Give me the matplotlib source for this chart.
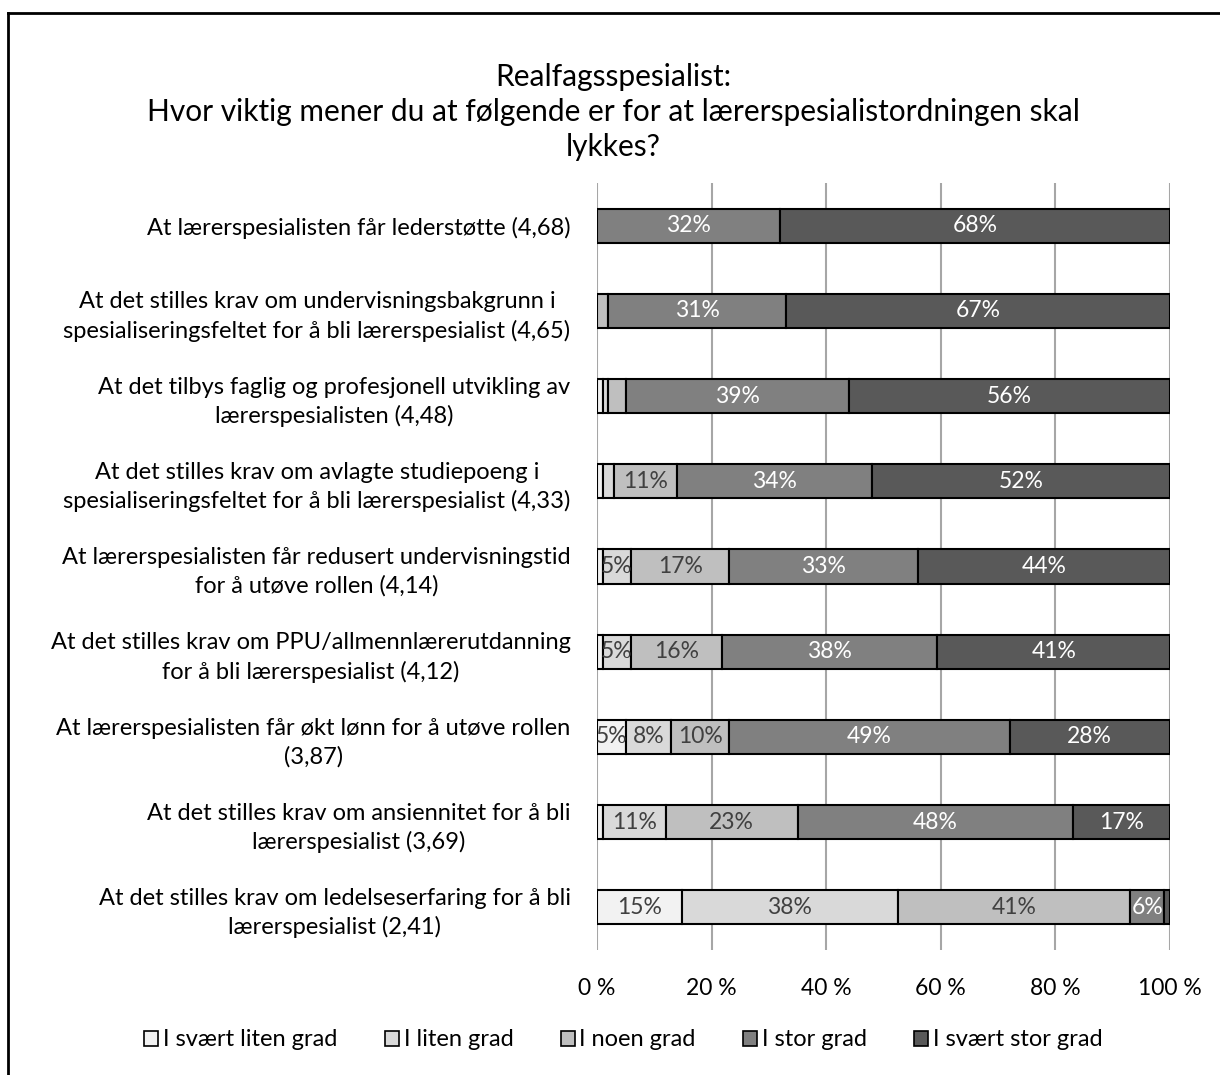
import matplotlib

matplotlib.use("Agg")
import matplotlib.pyplot as plt
from matplotlib.lines import Line2D
from matplotlib.patches import Patch
import numpy as np

plt.rcParams["font.family"] = ["Lato", "DejaVu Sans"]

title = ("Realfagsspesialist:\n"
         "Hvor viktig mener du at følgende er for at lærerspesialistordningen skal\n"
         "lykkes?")

categories = [
    "At lærerspesialisten får lederstøtte (4,68)",
    "At det stilles krav om undervisningsbakgrunn i\nspesialiseringsfeltet for å bli lærerspesialist (4,65)",
    "At det tilbys faglig og profesjonell utvikling av\nlærerspesialisten (4,48)",
    "At det stilles krav om avlagte studiepoeng i\nspesialiseringsfeltet for å bli lærerspesialist (4,33)",
    "At lærerspesialisten får redusert undervisningstid\nfor å utøve rollen (4,14)",
    "At det stilles krav om PPU/allmennlærerutdanning\nfor å bli lærerspesialist (4,12)",
    "At lærerspesialisten får økt lønn for å utøve rollen\n(3,87)",
    "At det stilles krav om ansiennitet for å bli\nlærerspesialist (3,69)",
    "At det stilles krav om ledelseserfaring for å bli\nlærerspesialist (2,41)",
]

series = ["I svært liten grad", "I liten grad", "I noen grad", "I stor grad", "I svært stor grad"]

# percent per category, one list per answer
svaert_liten = [0, 0, 1, 1, 1, 1, 5, 1, 15]
liten = [0, 0, 1, 2, 5, 5, 8, 11, 38]
noen = [0, 2, 3, 11, 17, 16, 10, 23, 41]
stor = [32, 31, 39, 34, 33, 38, 49, 48, 6]
svaert_stor = [68, 67, 56, 52, 44, 41, 28, 17, 1]

colors = ["#F2F2F2", "#D9D9D9", "#BFBFBF", "#808080", "#595959"]
label_colors = ["#404040", "#404040", "#404040", "#FFFFFF", "#FFFFFF"]

values = np.array([svaert_liten, liten, noen, stor, svaert_stor], dtype=float)
shares = values / values.sum(axis=0) * 100  # 100 % stacked

fig = plt.figure(figsize=(12.2, 10.75), dpi=100)
ax = fig.add_axes([597 / 1220, 1 - 950 / 1075, 573 / 1220, 767 / 1075])

y = np.arange(len(categories))
left = np.zeros(len(categories))
for i, name in enumerate(series):
    ax.barh(y, shares[i], left=left, height=0.4, color=colors[i],
            edgecolor="black", linewidth=1.5, label=name, zorder=3)
    for j, v in enumerate(shares[i]):
        if values[i][j] >= 5:
            ax.text(left[j] + v / 2, y[j], f"{values[i][j]:.0f}%", ha="center",
                    va="center", fontsize=16.5, color=label_colors[i], zorder=4)
    left += shares[i]

ax.set_xlim(0, 100)
ax.set_ylim(len(categories) - 0.5, -0.5)
ax.set_xticks(np.arange(0, 101, 20))
ax.set_xticklabels([f"{t} %" for t in range(0, 101, 20)], fontsize=16.5)
ax.set_yticks(y)
ax.set_yticklabels(categories, fontsize=17, multialignment="center", linespacing=1.4)
ax.tick_params(axis="both", length=0)
ax.tick_params(axis="x", pad=20)
ax.tick_params(axis="y", pad=19)
ax.grid(axis="x", color="#A6A6A6", linewidth=1.5, zorder=0)
for s in ax.spines.values():
    s.set_visible(False)

fig.text(0.503, 1 - 112 / 1075, title, ha="center", va="center", fontsize=21.5,
         linespacing=1.3)

handles = [Patch(facecolor=c, edgecolor="black", linewidth=1.2) for c in colors]
fig.legend(handles, series, loc="center", bbox_to_anchor=(0.511, 1 - 1040 / 1075),
           ncol=5, frameon=False, fontsize=17, handlelength=0.6, handleheight=0.6,
           handletextpad=0.2, columnspacing=2.0)

# chart area border (cropped on the right and bottom)
fig.add_artist(Line2D([8 / 1220, 8 / 1220], [0, 1 - 13 / 1075], color="black", linewidth=2))
fig.add_artist(Line2D([8 / 1220, 1], [1 - 13 / 1075, 1 - 13 / 1075], color="black", linewidth=2))

fig.savefig("out.png", dpi=100)
